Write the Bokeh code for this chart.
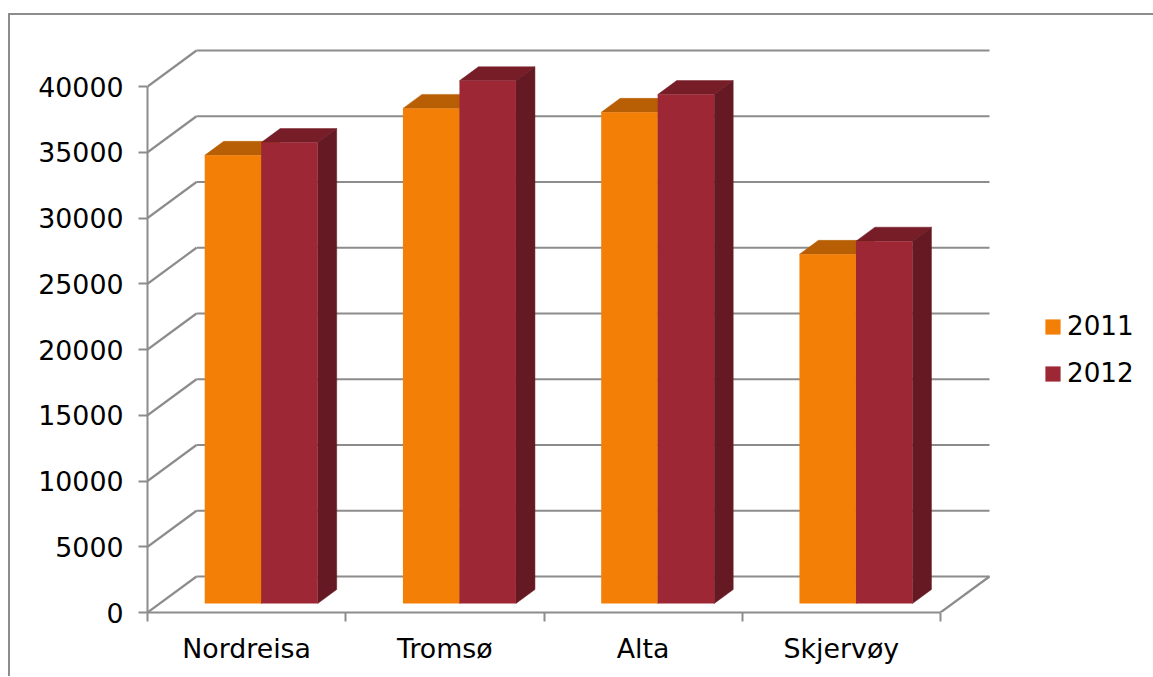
from bokeh.plotting import figure
from bokeh.models import (Range1d, FixedTicker, LinearAxis, Legend, LegendItem, ColumnDataSource)
from bokeh.embed import file_html
from bokeh.resources import INLINE

categories = ["Nordreisa", "Tromsø", "Alta", "Skjervøy"]
y_ticks = [0, 5000, 10000, 15000, 20000, 25000, 30000, 35000, 40000]
values_2011 = [34080, 37650, 37350, 26550]
values_2012 = [35050, 39750, 38700, 27550]

ORANGE = ("#f47f07", "#b85f05", "#b85f05")
RED = ("#9e2735", "#771d28", "#651a23")
GRID = "#8c8c8c"
FONT = "DejaVu Sans"

PX_X = 198.25
PX_Y = 526 / 40000
WALL_X, WALL_Y = 49 / PX_X, 36 / PX_Y
BAR_X, BAR_Y = 19 / PX_X, 14 / PX_Y
BASE = 9 / PX_Y
BAR_W = 56.5 / PX_X
GROUP_START = 57.2 / PX_X

W, H = 1145, 663
LEFT, RIGHT, TOP, BOTTOM = 137, 0, 28, 66
fw, fh = W - LEFT - RIGHT, H - TOP - BOTTOM

p = figure(width=W, height=H, output_backend="svg", toolbar_location=None,
           x_range=Range1d(0, fw / PX_X), y_range=Range1d(0, fh / PX_Y),
           x_axis_type=None, y_axis_type=None,
           min_border_left=LEFT, min_border_right=RIGHT, min_border_top=TOP, min_border_bottom=BOTTOM,
           margin=(13, 0, 0, 8))
p.styles = {"border-top": f"2px solid {GRID}", "border-left": f"2px solid {GRID}"}
p.outline_line_color = None
p.grid.visible = False
p.background_fill_color = "white"
p.border_fill_color = "white"

n = len(categories)
sx0, sy0, sx1, sy1 = [], [], [], []
for v in y_ticks:
    sx0 += [0, WALL_X]
    sy0 += [v, v + WALL_Y]
    sx1 += [WALL_X, n + WALL_X]
    sy1 += [v + WALL_Y, v + WALL_Y]
sx0.append(n); sy0.append(0); sx1.append(n + WALL_X); sy1.append(WALL_Y)
p.segment(sx0, sy0, sx1, sy1, line_color=GRID, line_width=2.2)

yaxis = LinearAxis(ticker=FixedTicker(ticks=y_ticks), bounds=(0, 40000))
yaxis.axis_line_color = GRID
yaxis.axis_line_width = 2
yaxis.major_tick_line_color = GRID
yaxis.major_tick_line_width = 2
yaxis.major_tick_out = 9
yaxis.major_tick_in = 0
yaxis.minor_tick_line_color = None
yaxis.major_label_text_font = FONT
yaxis.major_label_text_font_size = "26.8px"
yaxis.major_label_text_color = "#000000"
yaxis.major_label_standoff = 15
p.add_layout(yaxis, "left")

centers = [i + 0.5 for i in range(n)]
xaxis = LinearAxis(ticker=FixedTicker(ticks=centers, minor_ticks=list(range(n + 1))), bounds=(0, n))
xaxis.major_label_overrides = {c: name for c, name in zip(centers, categories)}
xaxis.axis_line_color = GRID
xaxis.axis_line_width = 2
xaxis.major_tick_line_color = None
xaxis.major_tick_out = 0
xaxis.major_tick_in = 0
xaxis.minor_tick_line_color = GRID
xaxis.minor_tick_line_width = 2
xaxis.minor_tick_out = 9
xaxis.minor_tick_in = 0
xaxis.major_label_text_font = FONT
xaxis.major_label_text_font_size = "26.8px"
xaxis.major_label_text_color = "#000000"
xaxis.major_label_standoff = 11
p.add_layout(xaxis, "below")


def draw_series(values, k, colors):
    front, top, side = colors
    x0 = [i + GROUP_START + k * BAR_W for i in range(n)]
    x1 = [x + BAR_W for x in x0]
    t = [v + BASE for v in values]
    top_xs = [[a, b, b + BAR_X, a + BAR_X] for a, b in zip(x0, x1)]
    top_ys = [[y, y, y + BAR_Y, y + BAR_Y] for y in t]
    side_xs = [[b, b, b + BAR_X, b + BAR_X] for b in x1]
    side_ys = [[BASE, y, y + BAR_Y, BASE + BAR_Y] for y in t]
    p.patches(top_xs, top_ys, fill_color=top, line_color=top, line_width=0.5)
    p.patches(side_xs, side_ys, fill_color=side, line_color=side, line_width=0.5)
    src = ColumnDataSource(dict(l=x0, r=x1, t=t, b=[BASE] * n))
    return p.quad(left="l", right="r", top="t", bottom="b", source=src,
                  fill_color=front, line_color=None)


r1 = draw_series(values_2011, 0, ORANGE)
r2 = draw_series(values_2012, 1, RED)

legend = Legend(items=[LegendItem(label="2011", renderers=[r1]), LegendItem(label="2012", renderers=[r2])],
                location=(896, 224), orientation="vertical")
legend.background_fill_alpha = 0
legend.border_line_color = None
legend.margin = 0
legend.padding = 0
legend.glyph_width = 19
legend.glyph_height = 19
legend.label_standoff = 5
legend.spacing = 17
legend.label_text_font = FONT
legend.label_text_font_size = "26.2px"
legend.label_text_color = "#000000"
p.add_layout(legend, "center")

open("out.html", "w").write(file_html(p, INLINE))
